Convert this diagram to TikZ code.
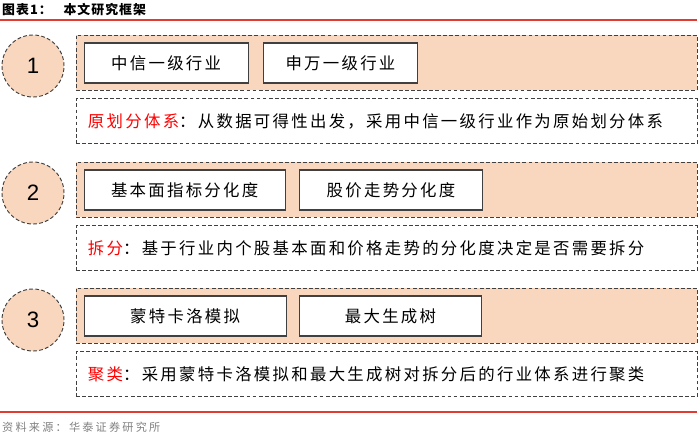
\documentclass[tikz,border=0pt]{standalone}
\usepackage{fontspec}
\usepackage{xcolor}
\usepackage{tikz}
\usetikzlibrary{positioning}
\newfontfamily\cjk{Noto Sans CJK SC}[LetterSpace=14]
\newfontfamily\cjktitle{Noto Sans CJK SC}[LetterSpace=8]
\newfontfamily\cjksrc{Noto Sans CJK SC}[LetterSpace=20]
\newfontfamily\numfont{Liberation Sans}
\definecolor{Peach}{HTML}{F9D7BE}
\definecolor{DashGray}{HTML}{404040}
\definecolor{TitleRed}{HTML}{E03C31}
\definecolor{KeyRed}{HTML}{FF0000}
\definecolor{SrcGray}{HTML}{808080}

\begin{document}
\begin{tikzpicture}[
    x=0.03cm, y=-0.03cm,
    font=\cjk\fontsize{14}{16}\selectfont,
    dashline/.style={draw=DashGray, line width=0.8pt, dash pattern=on 3.2pt off 2pt},
    numcirc/.style={circle, dashline, fill=Peach, minimum size=1.86cm, inner sep=0, font=\numfont\fontsize{19}{22}\selectfont},
    band/.style={dashline, fill=Peach, minimum width=18.63cm, minimum height=1.65cm, inner sep=0},
    itembox/.style={draw=DashGray, line width=1.1pt, fill=white, minimum height=1.2cm, inner sep=0},
    notebox/.style={dashline, minimum height=1.35cm, text width=17.91cm, inner xsep=0.36cm, inner ysep=0, align=left},
    redline/.style={draw=TitleRed, line width=0.9pt}
]
\useasboundingbox (0,0) rectangle (700,437);
% title and rules
\node[anchor=west, inner sep=0, font=\cjktitle\bfseries\fontsize{11}{13}\selectfont] (title) at (2,10) {图表1：\hspace{0.35cm}本文研究框架};
\draw[redline] (0,20) -- (697,20);
\draw[redline] (0,412) -- (697,412);
\node[anchor=west, inner sep=0, text=SrcGray, font=\cjksrc\fontsize{9.5}{11}\selectfont] (src) at (2,427) {资料来源：华泰证券研究所};

% step 1
\node[numcirc] (c1) at (33,66) {1};
\node[band] (band1) at (386.5,62.5) {};
\node[itembox, minimum width=4.92cm, anchor=west] (zx) at ([xshift=0.24cm, yshift=-0.015cm]band1.west) {中信一级行业};
\node[itembox, minimum width=4.62cm, right=0.42cm of zx] (sw) {申万一级行业};
\node[notebox, below=0.24cm of band1] (note1) {{\color{KeyRed}原划分体系}：从数据可得性出发，采用中信一级行业作为原始划分体系};

% step 2
\node[numcirc] (c2) at (33,193) {2};
\node[band] (band2) at (386.5,189.5) {};
\node[itembox, minimum width=6.03cm, anchor=west] (jbm) at ([xshift=0.24cm, yshift=-0.015cm]band2.west) {基本面指标分化度};
\node[itembox, minimum width=5.49cm, right=0.39cm of jbm] (gj) {股价走势分化度};
\node[notebox, below=0.24cm of band2] (note2) {{\color{KeyRed}拆分}：基于行业内个股基本面和价格走势的分化度决定是否需要拆分};

% step 3
\node[numcirc] (c3) at (33,320) {3};
\node[band] (band3) at (386.5,315.5) {};
\node[itembox, minimum width=6.06cm, anchor=west] (mc) at ([xshift=0.24cm, yshift=-0.015cm]band3.west) {蒙特卡洛模拟};
\node[itembox, minimum width=5.46cm, right=0.36cm of mc] (mst) {最大生成树};
\node[notebox, below=0.24cm of band3] (note3) {{\color{KeyRed}聚类}：采用蒙特卡洛模拟和最大生成树对拆分后的行业体系进行聚类};
\end{tikzpicture}
\end{document}
